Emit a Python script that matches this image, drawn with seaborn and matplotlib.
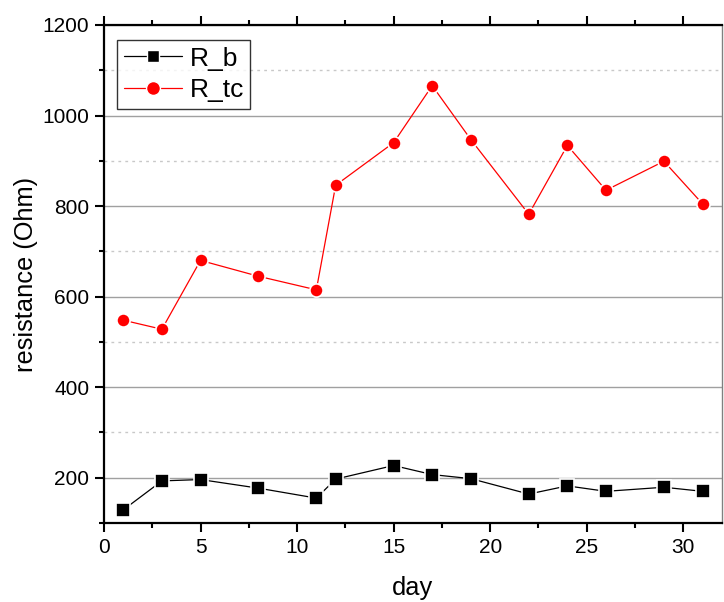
import numpy as np
import pandas as pd
import matplotlib
matplotlib.use("Agg")
import matplotlib.pyplot as plt
import seaborn as sns
from matplotlib.ticker import MultipleLocator
from matplotlib.lines import Line2D

days = [1, 3, 5, 8, 11, 12, 15, 17, 19, 22, 24, 26, 29, 31]
r_b = [129, 193, 196, 177, 155, 197, 227, 207, 198, 164, 182, 170, 179, 170]
r_tc = [548, 528, 680, 645, 615, 846, 940, 1066, 947, 782, 934, 835, 899, 805]
series_names = ["R_b", "R_tc"]

sns.set_theme(style="white")
plt.rcParams['font.family'] = ['Liberation Sans', 'DejaVu Sans']
plt.rcParams['text.color'] = 'black'
plt.rcParams['axes.labelcolor'] = 'black'
plt.rcParams['xtick.color'] = 'black'
plt.rcParams['ytick.color'] = 'black'

df = pd.DataFrame({"day": days * 2,
                   "value": r_b + r_tc,
                   "series": [series_names[0]] * len(days) + [series_names[1]] * len(days)})

fig = plt.figure(figsize=(7.24, 6.02), dpi=100)
ax = fig.add_axes([0.1436, 0.1312, 0.8534, 0.8273])

sns.lineplot(data=df, x="day", y="value", hue="series", style="series",
             palette={"R_b": "black", "R_tc": "red"},
             markers={"R_b": "s", "R_tc": "o"}, dashes=False,
             markersize=9.5, linewidth=0.9, markeredgecolor="white",
             markeredgewidth=1.2, ax=ax, legend=False, zorder=3)

ax.set_xlim(0, 32)
ax.set_ylim(100, 1200)
ax.xaxis.set_major_locator(MultipleLocator(5))
ax.xaxis.set_minor_locator(MultipleLocator(2.5))
ax.yaxis.set_major_locator(MultipleLocator(200))
ax.yaxis.set_minor_locator(MultipleLocator(100))

ax.grid(which="major", axis="y", color="#a0a0a0", linewidth=1.0, linestyle="-")
ax.grid(which="minor", axis="y", color="#c8c8c8", linewidth=1.0, linestyle=(0, (2, 3)))
ax.grid(which="both", axis="x", visible=False)
ax.set_axisbelow(True)

for s in ["left", "bottom", "top"]:
    ax.spines[s].set_color("black")
    ax.spines[s].set_linewidth(1.6)
ax.spines["right"].set_color("#808080")
ax.spines["right"].set_linewidth(1.0)

ax.tick_params(axis="both", which="both", direction="out", color="black", labelcolor="black")
ax.tick_params(axis="both", which="major", length=6.5, width=1.5, labelsize=15, pad=4)
ax.tick_params(axis="both", which="minor", length=3.5, width=1.5)
ax.tick_params(axis="x", which="both", top=True, bottom=True, labeltop=False)
ax.tick_params(axis="y", which="both", left=True, right=False)

ax.set_xlabel("day", fontsize=18.3, labelpad=14)
ax.set_ylabel("resistance (Ohm)", fontsize=18.3, labelpad=3)

handles = [Line2D([], [], color="black", marker="s", markersize=9, linewidth=0.9,
                  markeredgecolor="white", markeredgewidth=1.0),
           Line2D([], [], color="red", marker="o", markersize=10, linewidth=0.9,
                  markeredgecolor="white", markeredgewidth=1.0)]
leg = ax.legend(handles, series_names, loc="upper left", bbox_to_anchor=(0.021, 0.97),
                fontsize=19, frameon=True, fancybox=False, edgecolor="black",
                handlelength=2.2, handletextpad=0.3, borderpad=0.25, labelspacing=0.3,
                borderaxespad=0.0)
leg.get_frame().set_linewidth(1.0)

fig.savefig("out.png", dpi=100)
